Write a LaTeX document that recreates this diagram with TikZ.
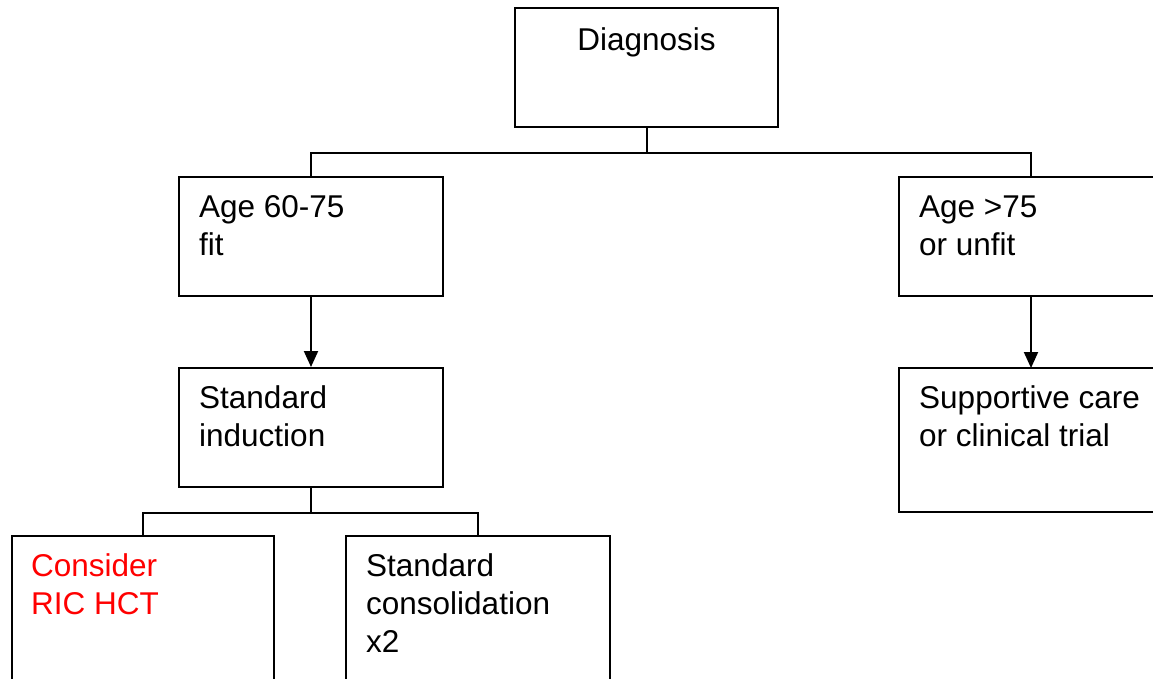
\documentclass[tikz,border=0pt]{standalone}
\usepackage{fontspec}
\setmainfont{Liberation Sans}
\usetikzlibrary{arrows.meta}
\begin{document}
\begin{tikzpicture}[x=1pt,y=-1pt,
  box/.style={draw=black,line width=2pt,rectangle,inner sep=0pt,anchor=north west,minimum width=#1},
  txt/.style={anchor=base west,inner sep=0pt,font=\fontsize{31.5}{38}\selectfont},
  conn/.style={draw=black,line width=2pt},
  arr/.style={conn,-{Triangle[width=14pt,length=16pt]}}]
\useasboundingbox (0,0) rectangle (1153,678);
\clip (0,0) rectangle (1153,678);
% boxes
\node[box=263pt,minimum height=119pt] (diag) at (514,7) {};
\node[box=264pt,minimum height=119pt] (fit) at (178,176) {};
\node[box=270pt,minimum height=119pt] (unfit) at (898,176) {};
\node[box=264pt,minimum height=119pt] (ind) at (178,367) {};
\node[box=270pt,minimum height=144pt] (supp) at (898,367) {};
\node[box=262pt,minimum height=160pt] (ric) at (11,535) {};
\node[box=264pt,minimum height=160pt] (cons) at (345,535) {};
% texts
\node[txt,anchor=base] (tdiag) at (646.5,50) {Diagnosis};
\node[txt] (tfit) at (199,217) {\parbox[t]{240pt}{Age 60-75\\fit}};
\node[txt] (tunfit) at (919,217) {\parbox[t]{240pt}{Age >75\\or unfit}};
\node[txt] (tind) at (199,408) {\parbox[t]{240pt}{Standard\\induction}};
\node[txt] (tsupp) at (919,408) {\parbox[t]{240pt}{Supportive care\\or clinical trial}};
\node[txt,text=red] (tric) at (31,576) {\parbox[t]{240pt}{Consider\\RIC HCT}};
\node[txt] (tcons) at (366,576) {\parbox[t]{240pt}{Standard\\consolidation\\x2}};
% connectors
\coordinate (j1) at ([yshift=-25pt]diag.south);
\coordinate (ur) at (1031,177);
\path[conn] (diag.south) -- (j1);
\path[conn] (fit.north) |- (j1) -| (ur);
\path[arr] (fit.south) -- (ind.north);
\coordinate (us) at (1031,296);
\coordinate (un) at (1031,368);
\path[arr] (us) -- (un);
\coordinate (j2) at ([yshift=-25pt]ind.south);
\path[conn] (ind.south) -- (j2);
\path[conn] (ric.north) |- (j2) -| (cons.north);
\end{tikzpicture}
\end{document}
